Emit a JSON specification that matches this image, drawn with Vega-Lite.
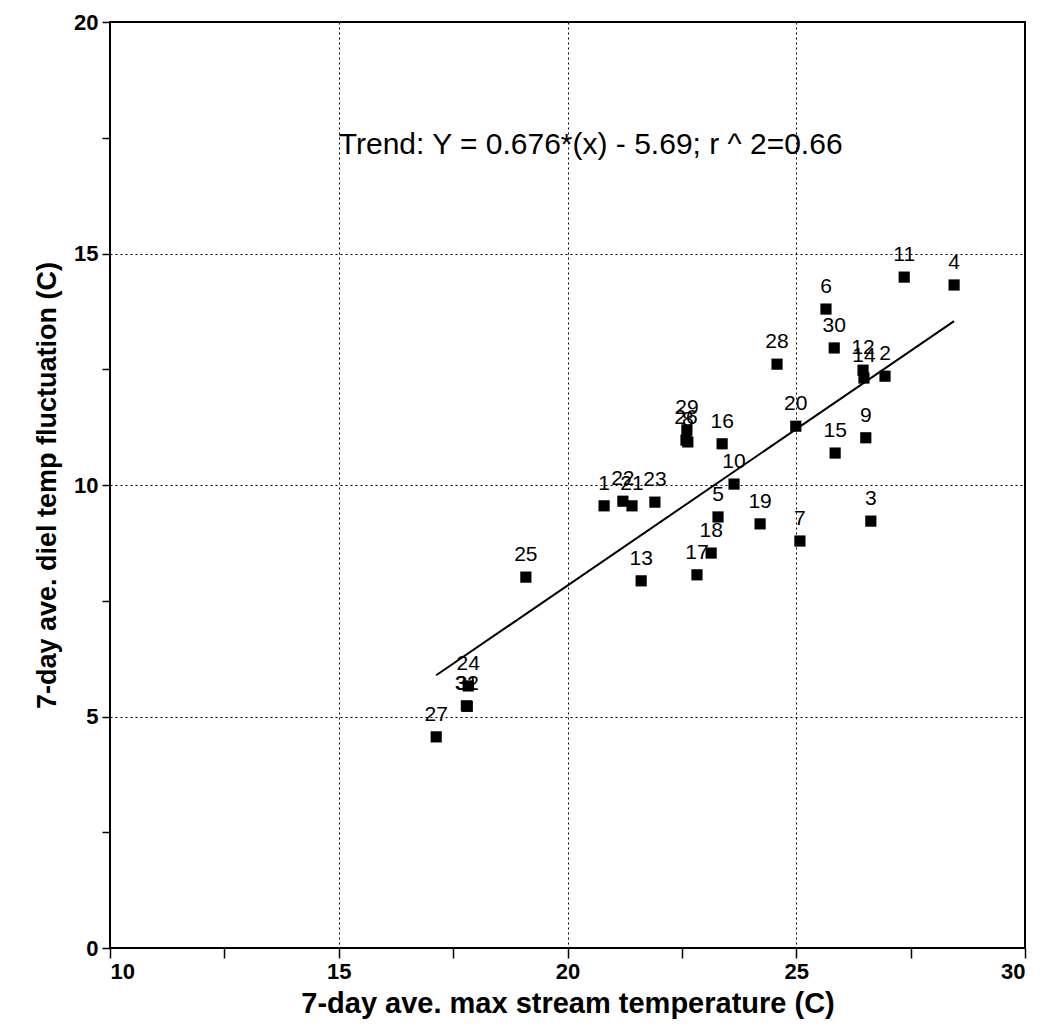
{
  "$schema": "https://vega.github.io/schema/vega-lite/v6.json",
  "width": 915,
  "height": 926,
  "autosize": {"type": "none"},
  "padding": {"left": 110, "top": 22, "right": 15, "bottom": 83},
  "background": "white",
  "config": {
    "view": {"stroke": "black", "strokeWidth": 2},
    "font": "Liberation Sans",
    "axis": {
      "labelFont": "Liberation Sans",
      "titleFont": "Liberation Sans",
      "labelFontWeight": "bold",
      "labelFontSize": 22,
      "labelColor": "black",
      "titleFontWeight": "bold",
      "titleFontSize": 29,
      "titleColor": "black",
      "tickColor": "black",
      "tickWidth": 1.5,
      "domain": false,
      "gridColor": "black",
      "gridDash": [2, 3],
      "gridWidth": 1
    }
  },
  "datasets": {
    "pts": [
      {"site": "1", "tmax": 20.8, "diel": 9.55},
      {"site": "2", "tmax": 26.94, "diel": 12.35},
      {"site": "3", "tmax": 26.63, "diel": 9.22},
      {"site": "4", "tmax": 28.45, "diel": 14.32},
      {"site": "5", "tmax": 23.29, "diel": 9.31},
      {"site": "6", "tmax": 25.65, "diel": 13.8},
      {"site": "7", "tmax": 25.08, "diel": 8.79},
      {"site": "8", "tmax": 22.63, "diel": 10.93},
      {"site": "9", "tmax": 26.52, "diel": 11.02},
      {"site": "10", "tmax": 23.64, "diel": 10.02},
      {"site": "11", "tmax": 27.36, "diel": 14.49},
      {"site": "12", "tmax": 26.46, "diel": 12.48},
      {"site": "13", "tmax": 21.61, "diel": 7.93},
      {"site": "14", "tmax": 26.48, "diel": 12.31},
      {"site": "15", "tmax": 25.85, "diel": 10.69},
      {"site": "16", "tmax": 23.38, "diel": 10.89},
      {"site": "17", "tmax": 22.83, "diel": 8.06},
      {"site": "18", "tmax": 23.14, "diel": 8.53},
      {"site": "19", "tmax": 24.21, "diel": 9.16},
      {"site": "20", "tmax": 24.99, "diel": 11.27},
      {"site": "21", "tmax": 21.41, "diel": 9.55},
      {"site": "22", "tmax": 21.21, "diel": 9.65},
      {"site": "23", "tmax": 21.91, "diel": 9.63},
      {"site": "24", "tmax": 17.83, "diel": 5.66},
      {"site": "25", "tmax": 19.09, "diel": 8.01},
      {"site": "26", "tmax": 22.59, "diel": 10.97},
      {"site": "27", "tmax": 17.13, "diel": 4.56},
      {"site": "28", "tmax": 24.58, "diel": 12.61},
      {"site": "29", "tmax": 22.61, "diel": 11.19},
      {"site": "30", "tmax": 25.83, "diel": 12.96},
      {"site": "31", "tmax": 17.79, "diel": 5.23},
      {"site": "32", "tmax": 17.81, "diel": 5.22}
    ],
    "trend": [
      {"tmax": 17.13, "diel": 5.89},
      {"tmax": 28.45, "diel": 13.54}
    ],
    "note": [
      {"tmax": 15.0, "diel": 17.35, "text": "Trend: Y = 0.676*(x) - 5.69; r ^ 2=0.66"}
    ]
  },
  "layer": [
    {
      "data": {"name": "pts"},
      "mark": {"type": "point", "shape": "square", "filled": true, "color": "black", "size": 125, "opacity": 1},
      "encoding": {
        "x": {
          "field": "tmax", "type": "quantitative",
          "scale": {"domain": [10, 30], "nice": false, "zero": false},
          "axis": {
            "values": [10, 12.5, 15, 17.5, 20, 22.5, 25, 27.5, 30],
            "labelExpr": "datum.value % 5 === 0 ? datum.label : ''",
            "gridOpacity": {"condition": {"test": "datum.value % 5 === 0", "value": 1}, "value": 0},
            "tickSize": 10,
            "labelPadding": 3,
            "title": "7-day ave. max stream temperature (C)",
            "titlePadding": 7
          }
        },
        "y": {
          "field": "diel", "type": "quantitative",
          "scale": {"domain": [0, 20], "nice": false, "zero": false},
          "axis": {
            "values": [0, 2.5, 5, 7.5, 10, 12.5, 15, 17.5, 20],
            "labelExpr": "datum.value % 5 === 0 ? datum.label : ''",
            "gridOpacity": {"condition": {"test": "datum.value % 5 === 0", "value": 1}, "value": 0},
            "tickSize": 8,
            "labelPadding": 4,
            "title": "7-day ave. diel temp fluctuation (C)",
            "titleFontSize": 27,
            "titlePadding": 12
          }
        }
      }
    },
    {
      "data": {"name": "pts"},
      "mark": {"type": "text", "dy": -22, "fontSize": 21, "color": "black", "font": "Liberation Sans"},
      "encoding": {
        "x": {"field": "tmax", "type": "quantitative"},
        "y": {"field": "diel", "type": "quantitative"},
        "text": {"field": "site"}
      }
    },
    {
      "data": {"name": "trend"},
      "mark": {"type": "line", "color": "black", "strokeWidth": 2},
      "encoding": {
        "x": {"field": "tmax", "type": "quantitative"},
        "y": {"field": "diel", "type": "quantitative"}
      }
    },
    {
      "data": {"name": "note"},
      "mark": {"type": "text", "align": "left", "baseline": "middle", "fontSize": 30, "color": "black", "font": "Liberation Sans"},
      "encoding": {
        "x": {"field": "tmax", "type": "quantitative"},
        "y": {"field": "diel", "type": "quantitative"},
        "text": {"field": "text"}
      }
    }
  ]
}
